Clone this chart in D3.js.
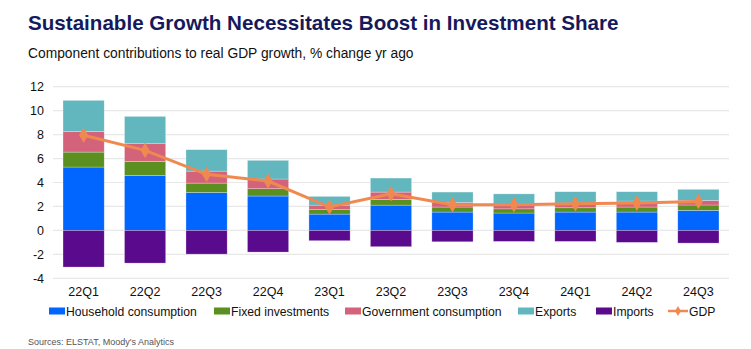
<!DOCTYPE html>
<html>
<head>
<meta charset="utf-8">
<script src="https://cdn.jsdelivr.net/npm/d3@7"></script>
<style>
  body { margin: 0; background: #fff; }
  svg { font-family: "Liberation Sans", Arial, sans-serif; }
</style>
</head>
<body>
<div id="chart"></div>
<script>
// values
const quarters = ["22Q1", "22Q2", "22Q3", "22Q4", "23Q1", "23Q2", "23Q3", "23Q4", "24Q1", "24Q2", "24Q3"]
const household = [5.29, 4.59, 3.17, 2.87, 1.36, 2.11, 1.53, 1.45, 1.53, 1.53, 1.67]
const fixedInv = [1.25, 1.17, 0.78, 0.61, 0.37, 0.48, 0.42, 0.35, 0.36, 0.42, 0.45]
const govCons = [1.73, 1.48, 1.00, 0.81, 0.38, 0.61, 0.39, 0.35, 0.39, 0.50, 0.39]
const exportsV = [2.59, 2.28, 1.79, 1.56, 0.73, 1.17, 0.86, 0.90, 0.95, 0.78, 0.92]
const importsV = [-3.06, -2.73, -1.98, -1.81, -0.86, -1.36, -0.95, -0.92, -0.92, -1.00, -1.06]
const gdp = [7.94, 6.68, 4.68, 4.12, 1.95, 3.06, 2.15, 2.15, 2.23, 2.28, 2.42]
const yTicks = [-4, -2, 0, 2, 4, 6, 8, 10, 12]

const series = [
    {name: "Household consumption", values: household, color: "#0066ff"},
    {name: "Fixed investments", values: fixedInv, color: "#5b8f1f"},
    {name: "Government consumption", values: govCons, color: "#d3637a"},
    {name: "Exports", values: exportsV, color: "#62b6bd"},
    {name: "Imports", values: importsV, color: "#5a0a8c"}
]
const gdpColor = "#f0894f"

const W = 751, H = 349

let svg = d3.select("#chart")
    .append("svg")
    .attr("width", W)
    .attr("height", H)

svg.append("text")
    .attr("x", 28).attr("y", 30)
    .attr("font-size", 20.6).attr("font-weight", "bold")
    .attr("fill", "#151a5c")
    .text("Sustainable Growth Necessitates Boost in Investment Share")

svg.append("text")
    .attr("x", 28).attr("y", 58)
    .attr("font-size", 13.8)
    .attr("fill", "#111")
    .text("Component contributions to real GDP growth, % change yr ago")

let x = d3.scaleBand()
    .domain(quarters)
    .range([53, 729])
    .paddingInner(0.33)
    .paddingOuter(0.163)

let y = d3.scaleLinear()
    .domain([-4, 12])
    .range([278.3, 86.7])

// gridlines
svg.append("g")
    .selectAll("line")
    .data(yTicks)
    .join("line")
    .attr("x1", 53).attr("x2", 729)
    .attr("y1", d => y(d)).attr("y2", d => y(d))
    .attr("stroke", "#e8e8e8")
    .attr("stroke-width", 1.2)

let yAxis = svg.append("g")
    .attr("transform", "translate(47,0)")
    .call(d3.axisLeft(y).tickValues(yTicks).tickFormat(d => String(d)).tickSize(0).tickPadding(3))
yAxis.select(".domain").remove()
yAxis.selectAll("text")
    .attr("font-size", 12.5)
    .attr("font-family", "Liberation Sans, Arial, sans-serif")
    .attr("fill", "#111")

let xAxis = svg.append("g")
    .attr("transform", "translate(0,284)")
    .call(d3.axisBottom(x).tickSize(0).tickPadding(3))
xAxis.select(".domain").remove()
xAxis.selectAll("text")
    .attr("font-size", 12.5)
    .attr("font-family", "Liberation Sans, Arial, sans-serif")
    .attr("fill", "#111")

// stacked bars: positives stack upward, imports go down from zero
let segs = []
quarters.forEach((q, i) => {
    let pos = 0, neg = 0
    series.forEach(s => {
        let v = s.values[i]
        if (v >= 0) { segs.push({q, s, y0: pos, y1: pos + v}); pos += v }
        else { segs.push({q, s, y0: neg + v, y1: neg}); neg += v }
    })
})

svg.append("g")
    .selectAll("rect")
    .data(segs)
    .join("rect")
    .attr("x", d => x(d.q))
    .attr("width", x.bandwidth())
    .attr("y", d => y(d.y1))
    .attr("height", d => y(d.y0) - y(d.y1))
    .attr("fill", d => d.s.color)
    .attr("stroke", "rgba(255,255,255,0.45)")
    .attr("stroke-width", 0.6)

// GDP line
let line = d3.line()
    .x((d, i) => x(quarters[i]) + x.bandwidth() / 2)
    .y(d => y(d))

svg.append("path")
    .datum(gdp)
    .attr("d", line)
    .attr("fill", "none")
    .attr("stroke", gdpColor)
    .attr("stroke-width", 3)

svg.append("g")
    .selectAll("path")
    .data(gdp)
    .join("path")
    .attr("d", d3.symbol(d3.symbolDiamond, 70))
    .attr("transform", (d, i) => "translate(" + (x(quarters[i]) + x.bandwidth() / 2) + "," + y(d) + ")")
    .attr("fill", gdpColor)

// legend
let legendX = [49, 214, 345, 518, 596, 668]
let legend = svg.append("g").attr("transform", "translate(0,311)")
series.forEach((s, i) => {
    legend.append("rect")
        .attr("x", legendX[i]).attr("y", -3.5)
        .attr("width", 16).attr("height", 7)
        .attr("fill", s.color)
    legend.append("text")
        .attr("x", legendX[i] + 17).attr("y", 4.5)
        .attr("font-size", 12.2).attr("fill", "#111")
        .text(s.name)
})
let gx = legendX[5]
legend.append("line")
    .attr("x1", gx).attr("x2", gx + 20)
    .attr("stroke", gdpColor).attr("stroke-width", 2.5)
legend.append("path")
    .attr("d", d3.symbol(d3.symbolDiamond, 30))
    .attr("transform", "translate(" + (gx + 10) + ",0)")
    .attr("fill", gdpColor)
legend.append("text")
    .attr("x", gx + 21).attr("y", 4.5)
    .attr("font-size", 12.2).attr("fill", "#111")
    .text("GDP")

svg.append("text")
    .attr("x", 28).attr("y", 345)
    .attr("font-size", 9).attr("fill", "#555")
    .text("Sources: ELSTAT, Moody's Analytics")
</script>
</body>
</html>
